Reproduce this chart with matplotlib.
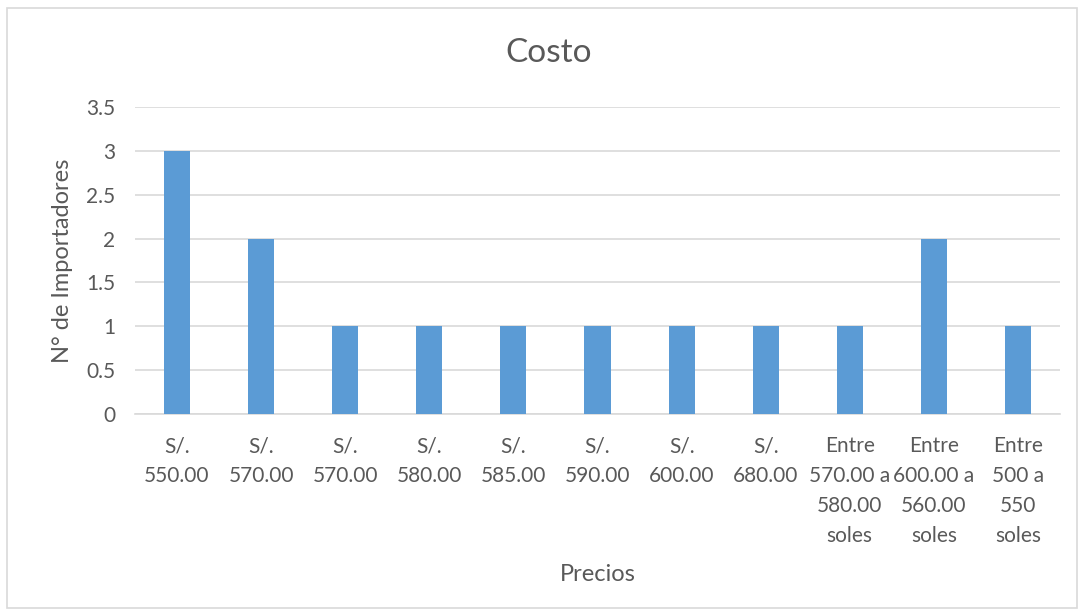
import matplotlib.pyplot as plt
from matplotlib.patches import Rectangle

categorias = ["S/.\n550.00", "S/.\n570.00", "S/.\n570.00", "S/.\n580.00",
              "S/.\n585.00", "S/.\n590.00", "S/.\n600.00", "S/.\n680.00",
              "Entre\n570.00 a\n580.00\nsoles", "Entre\n600.00 a\n560.00\nsoles",
              "Entre\n500 a\n550\nsoles"]
importadores = [3, 2, 1, 1, 1, 1, 1, 1, 1, 2, 1]
yticks = [0, 0.5, 1, 1.5, 2, 2.5, 3, 3.5]
ytick_labels = ["0", "0.5", "1", "1.5", "2", "2.5", "3", "3.5"]

plt.rcParams['font.family'] = ['Lato', 'DejaVu Sans']
gris = "#595959"

fig = plt.figure(figsize=(10.84, 6.16), dpi=100)
W, H = 1084, 616
ax = fig.add_axes([135 / W, 1 - 414 / H, (1060 - 135) / W, (414 - 107) / H])

x = list(range(len(categorias)))
ax.bar(x, importadores, width=0.31, color="#5B9BD5", zorder=3)

ax.set_xlim(-0.5, len(categorias) - 0.5)
ax.set_ylim(0, 3.5)
ax.set_yticks(yticks)
ax.set_yticklabels(ytick_labels)
ax.set_xticks(x)
ax.set_xticklabels(categorias, linespacing=1.62)

ax.grid(axis="y", color="#D9D9D9", linewidth=1.2, zorder=0)
for s in ["top", "right", "left"]:
    ax.spines[s].set_visible(False)
ax.spines["bottom"].set_color("#D9D9D9")
ax.spines["bottom"].set_linewidth(1.2)
ax.tick_params(axis="both", length=0, labelsize=15, colors=gris)
ax.tick_params(axis="x", pad=16)
ax.tick_params(axis="y", pad=14)

ax.set_xlabel("Precios", fontsize=17, color=gris, labelpad=13)
ax.set_ylabel("N° de Importadores", fontsize=17, color=gris, labelpad=10)
fig.text(549 / W, 1 - 53 / H, "Costo", fontsize=24, color=gris,
         ha="center", va="center")

fig.patches.append(Rectangle((7 / W, 1 - 608 / H), (1077 - 7) / W, (608 - 8) / H,
                             transform=fig.transFigure, fill=False,
                             edgecolor="#D9D9D9", linewidth=1.2))

fig.savefig("out.png", dpi=100)
